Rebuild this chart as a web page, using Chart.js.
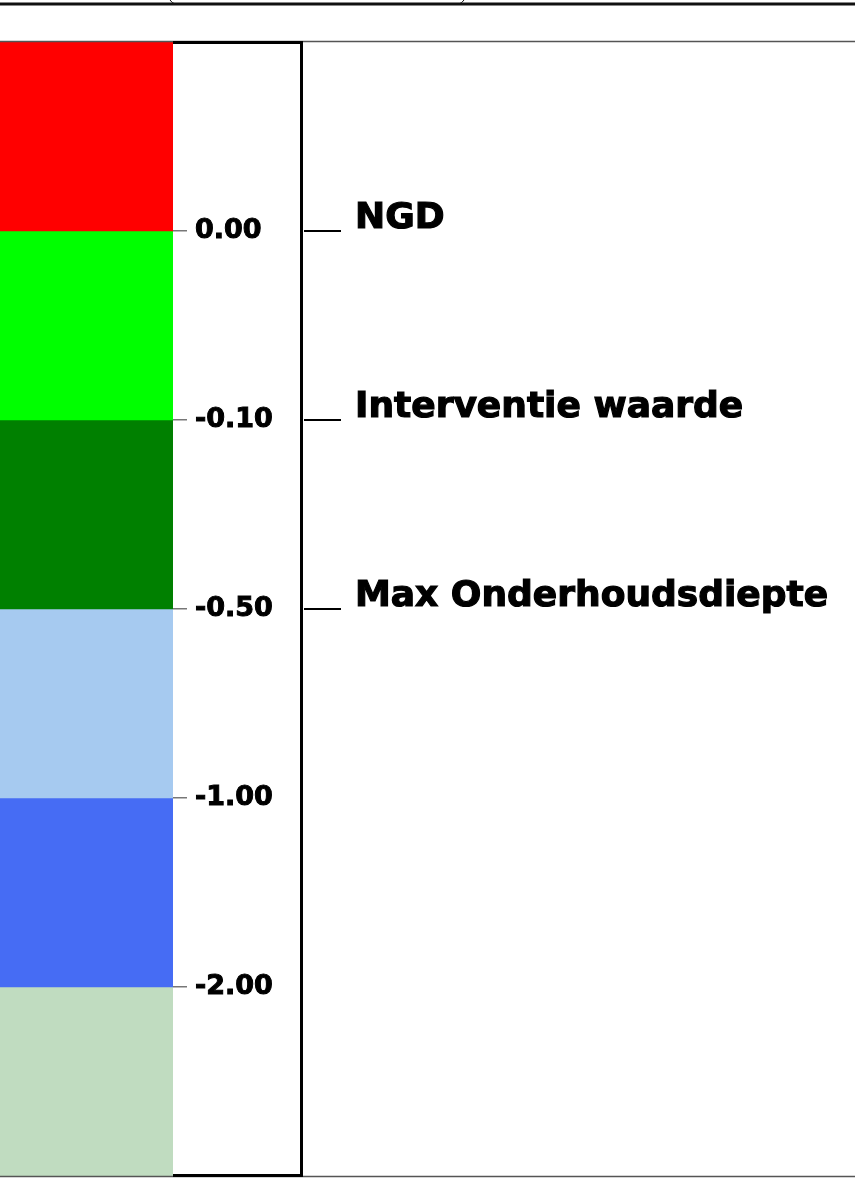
<!DOCTYPE html>
<html lang="nl">
<head>
    <meta charset="UTF-8">
    <title>Diepte legenda</title>
    <script src="https://cdn.jsdelivr.net/npm/chart.js"></script>
    <style>
        body { margin: 0; background: #fff; }
        canvas { display: block; }
    </style>
</head>
<body>
    <canvas id="legendChart" width="855" height="1184"></canvas>

    <script>
        // bands from top to bottom, each one step on the index scale
        const bandColors = ['#ff0000', '#00ff00', '#008000', '#a6caf0', '#466cf4', '#c0dcc0'];
        const bandSizes = [1, 1, 1, 1, 1, 1];
        // level boundaries between the bands
        const levelValues = [1, 2, 3, 4, 5];
        const levelLabels = ['0.00', '-0.10', '-0.50', '-1.00', '-2.00'];
        const levelNames = ['NGD', 'Interventie waarde', 'Max Onderhoudsdiepte'];

        const frame = {
            id: 'frame',
            afterDraw(chart) {
                const ctx = chart.ctx;
                const { top, bottom, right } = chart.chartArea;
                const ys = chart.scales.y;
                const boxRight = ys.right;
                ctx.save();

                // header bar at the top (bottom edge of title box)
                ctx.strokeStyle = '#111';
                ctx.lineWidth = 3;
                ctx.beginPath();
                ctx.moveTo(0, 4);
                ctx.lineTo(chart.width, 4);
                ctx.stroke();
                ctx.lineWidth = 1;
                ctx.beginPath();
                ctx.moveTo(170, 0);
                ctx.quadraticCurveTo(172, 3, 175, 4);
                ctx.moveTo(464, 0);
                ctx.quadraticCurveTo(462, 3, 459, 4);
                ctx.stroke();

                // thin outer lines
                ctx.strokeStyle = '#555';
                ctx.lineWidth = 1.5;
                ctx.beginPath();
                ctx.moveTo(0, top - 0.5);
                ctx.lineTo(chart.width, top - 0.5);
                ctx.moveTo(0, bottom + 0.5);
                ctx.lineTo(chart.width, bottom + 0.5);
                ctx.stroke();

                // box around the labels
                ctx.strokeStyle = '#000';
                ctx.lineWidth = 3;
                ctx.beginPath();
                ctx.moveTo(right, top + 0.5);
                ctx.lineTo(boxRight + 0.5, top + 0.5);
                ctx.lineTo(boxRight + 0.5, bottom - 0.5);
                ctx.lineTo(right, bottom - 0.5);
                ctx.stroke();

                // named levels
                ctx.fillStyle = '#000';
                ctx.font = 'bold 36px "DejaVu Sans"';
                ctx.textBaseline = 'alphabetic';
                levelNames.forEach((name, i) => {
                    const y = ys.getPixelForValue(levelValues[i]);
                    ctx.lineWidth = 2;
                    ctx.beginPath();
                    ctx.moveTo(boxRight + 3, y);
                    ctx.lineTo(boxRight + 40, y);
                    ctx.stroke();
                    ctx.lineWidth = 1.2;
                    ctx.fillText(name, boxRight + 54, y - 3);
                    ctx.strokeText(name, boxRight + 54, y - 3);
                });
                ctx.restore();
            }
        };

        const ctx = document.getElementById('legendChart').getContext('2d');
        new Chart(ctx, {
            type: 'bar',
            data: {
                labels: [''],
                datasets: bandColors.map((c, i) => ({
                    data: [bandSizes[i]],
                    backgroundColor: c,
                    borderWidth: 0,
                    categoryPercentage: 1,
                    barPercentage: 1
                }))
            },
            options: {
                responsive: false,
                animation: false,
                layout: { padding: { top: 42, bottom: 8, left: 0, right: 554 } },
                plugins: { legend: { display: false }, tooltip: { enabled: false } },
                scales: {
                    x: { display: false, stacked: true },
                    y: {
                        position: 'right',
                        stacked: true,
                        reverse: true,
                        min: 0,
                        max: 6,
                        afterBuildTicks: scale => {
                            scale.ticks = levelValues.map(v => ({ value: v }));
                        },
                        afterFit: scale => {
                            scale.width = 128;
                            scale.paddingTop = 0;
                            scale.paddingBottom = 0;
                        },
                        border: { display: false },
                        grid: {
                            drawOnChartArea: false,
                            drawTicks: true,
                            tickLength: 14,
                            color: '#777',
                            lineWidth: 1.5
                        },
                        ticks: {
                            color: '#000',
                            padding: 8,
                            textStrokeColor: '#000',
                            textStrokeWidth: 1,
                            font: { family: 'DejaVu Sans', weight: 'bold', size: 27 },
                            callback: v => levelLabels[levelValues.indexOf(v)]
                        }
                    }
                }
            },
            plugins: [frame]
        });
    </script>
</body>
</html>
